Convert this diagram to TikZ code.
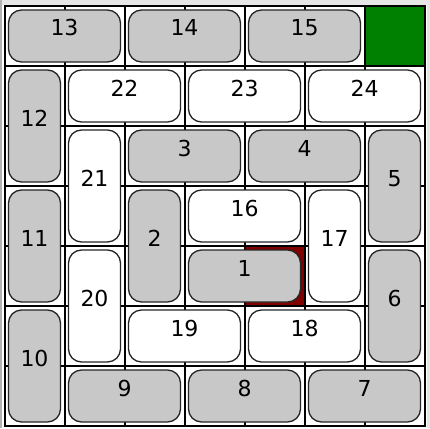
\documentclass[tikz,border=0pt]{standalone}
\usepackage{fontspec}
\setmainfont{DejaVu Sans}
\definecolor{tilegrey}{HTML}{C8C8C8}
\definecolor{framegrey}{HTML}{E6E6E6}
\definecolor{exitgreen}{HTML}{008000}
\definecolor{goalred}{HTML}{800000}
\tikzset{
  gridline/.style={line width=2pt,line cap=rect},
  block/.style={draw=black!85,line width=1.3pt,rounded corners=13pt,inner sep=0pt,
    text height=11pt,text depth=11pt,font=\fontsize{22}{26}\selectfont},
  hblock/.style={block,minimum width=112pt,minimum height=52pt},
  vblock/.style={block,minimum width=52pt,minimum height=112pt},
  greyblk/.style={fill=tilegrey},
  whiteblk/.style={fill=white}
}
\begin{document}
\begin{tikzpicture}[x=1pt,y=-1pt]
\useasboundingbox (0,0) rectangle (430,428);
\fill[white] (0,0) rectangle (430,428);
\fill[framegrey] (0,0) rectangle (430,5);
\fill[framegrey] (427,0) rectangle (430,428);
\fill[black!30] (0,0) rectangle (2,428);
% exit and target cells
\fill[exitgreen] (364.5,6) rectangle (424.5,66);
\fill[goalred] (244.5,246) rectangle (304.5,306);
\foreach \i in {0,...,7}{
  \draw[gridline] (4.5+60*\i,6) -- (4.5+60*\i,426);
  \draw[gridline] (4.5,6+60*\i) -- (424.5,6+60*\i);
}
% horizontal blocks
\node[hblock,greyblk] (p13) at (64.5,36) {13};
\node[hblock,greyblk] (p14) at (184.5,36) {14};
\node[hblock,greyblk] (p15) at (304.5,36) {15};
\node[hblock,whiteblk] (p22) at (124.5,96) {22};
\node[hblock,whiteblk] (p23) at (244.5,96) {23};
\node[hblock,whiteblk] (p24) at (364.5,96) {24};
\node[hblock,greyblk] (p3) at (184.5,156) {3};
\node[hblock,greyblk] (p4) at (304.5,156) {4};
\node[hblock,whiteblk] (p16) at (244.5,216) {16};
\node[hblock,greyblk] (p1) at (244.5,276) {1};
\node[hblock,whiteblk] (p19) at (184.5,336) {19};
\node[hblock,whiteblk] (p18) at (304.5,336) {18};
\node[hblock,greyblk] (p9) at (124.5,396) {9};
\node[hblock,greyblk] (p8) at (244.5,396) {8};
\node[hblock,greyblk] (p7) at (364.5,396) {7};
% vertical blocks
\node[vblock,greyblk] (p12) at (34.5,126) {12};
\node[vblock,whiteblk] (p21) at (94.5,186) {21};
\node[vblock,greyblk] (p5) at (394.5,186) {5};
\node[vblock,greyblk] (p11) at (34.5,246) {11};
\node[vblock,greyblk] (p2) at (154.5,246) {2};
\node[vblock,whiteblk] (p17) at (334.5,246) {17};
\node[vblock,whiteblk] (p20) at (94.5,306) {20};
\node[vblock,greyblk] (p6) at (394.5,306) {6};
\node[vblock,greyblk] (p10) at (34.5,366) {10};
\end{tikzpicture}
\end{document}
